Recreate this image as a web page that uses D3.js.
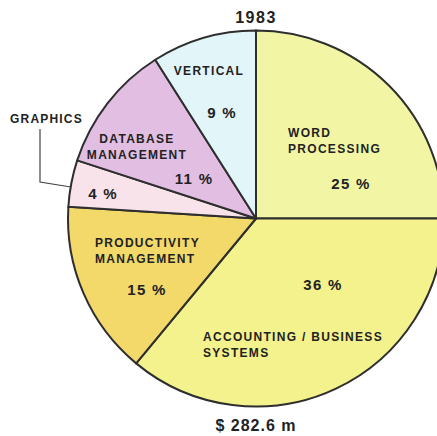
<!DOCTYPE html>
<html>
<head>
<meta charset="utf-8">
<script src="https://cdn.jsdelivr.net/npm/d3@7"></script>
<style>
  html, body { margin: 0; padding: 0; background: #ffffff; }
  svg { display: block; }
  text { font-family: "Liberation Sans", Arial, sans-serif; font-weight: bold; fill: #222222; }
</style>
</head>
<body>
<svg id="chart" width="437" height="436"></svg>
<script>
// ---- data ----
const categories = ["Word Processing", "Accounting/Business Systems", "Productivity Management", "Graphics", "Database Management", "Vertical"];
const shares = [25, 36, 15, 4, 11, 9];
const shareLabels = ["25 %", "36 %", "15 %", "4 %", "11 %", "9 %"];
const nameLines = [["WORD", "PROCESSING"], ["ACCOUNTING / BUSINESS", "SYSTEMS"], ["PRODUCTIVITY", "MANAGEMENT"], [], ["DATABASE", "MANAGEMENT"], ["VERTICAL"]];
const title = "1983";
const totalLabel = "$ 282.6 m";
const colors = ["#f2f6a4", "#f4f28c", "#f2d96a", "#f9e3ea", "#e2bfe2", "#e2f5f8"];

// ---- layout ----
const svg = d3.select("#chart");
const cx = 256, cy = 218.5, R = 188;

const pie = d3.pie().sort(null).value(d => d.v).startAngle(0).endAngle(2 * Math.PI);
const arcs = pie(shares.map((v, i) => ({ v, i })));
const arc = d3.arc().innerRadius(0).outerRadius(R);

const g = svg.append("g").attr("transform", `translate(${cx},${cy})`);
g.selectAll("path.slice").data(arcs).join("path")
  .attr("class", "slice")
  .attr("d", arc)
  .attr("fill", d => colors[d.data.i])
  .attr("stroke", "#2e2e2e")
  .attr("stroke-width", 2)
  .attr("stroke-linejoin", "round");

// label placement (name block + percentage), relative to chart center
const place = [
  { name: [288 - cx, 133 - cy, "start"], pct: [351 - cx, 184 - cy] },
  { name: [203 - cx, 337 - cy, "start"], pct: [323 - cx, 285 - cy] },
  { name: [95 - cx, 243 - cy, "start"], pct: [147 - cx, 290 - cy] },
  { name: null, pct: [103 - cx, 194 - cy] },
  { name: [137 - cx, 139 - cy, "middle"], pct: [194 - cx, 179 - cy] },
  { name: [209 - cx, 71 - cy, "middle"], pct: [222 - cx, 113 - cy] }
];

arcs.forEach(d => {
  const i = d.data.i, p = place[i];
  if (p.name) {
    nameLines[i].forEach((line, j) => {
      g.append("text")
        .attr("x", p.name[0])
        .attr("y", p.name[1] + j * 15.5)
        .attr("dy", "0.35em")
        .attr("text-anchor", p.name[2])
        .attr("font-size", 12)
        .attr("letter-spacing", 1.3)
        .attr("fill", "#2a2a2a")
        .text(line);
    });
  }
  g.append("text")
    .attr("x", p.pct[0])
    .attr("y", p.pct[1])
    .attr("dy", "0.35em")
    .attr("text-anchor", "middle")
    .attr("font-size", 15)
    .attr("letter-spacing", 1.3)
    .attr("fill", "#161616")
    .text(shareLabels[i]);
});

// Graphics external label with leader line
svg.append("text")
  .attr("x", 10).attr("y", 119).attr("dy", "0.35em")
  .attr("font-size", 12).attr("letter-spacing", 1.2)
  .text("GRAPHICS");
svg.append("path")
  .attr("d", "M40,129 L40,182 L71,187")
  .attr("fill", "none").attr("stroke", "#444").attr("stroke-width", 1.2);

// title and total
svg.append("text")
  .attr("x", cx).attr("y", 17).attr("dy", "0.35em")
  .attr("text-anchor", "middle").attr("font-size", 16).attr("letter-spacing", 1.5)
  .attr("fill", "#111")
  .text(title);
svg.append("text")
  .attr("x", cx).attr("y", 425).attr("dy", "0.35em")
  .attr("text-anchor", "middle").attr("font-size", 16).attr("letter-spacing", 1)
  .attr("fill", "#111")
  .text(totalLabel);
</script>
</body>
</html>
